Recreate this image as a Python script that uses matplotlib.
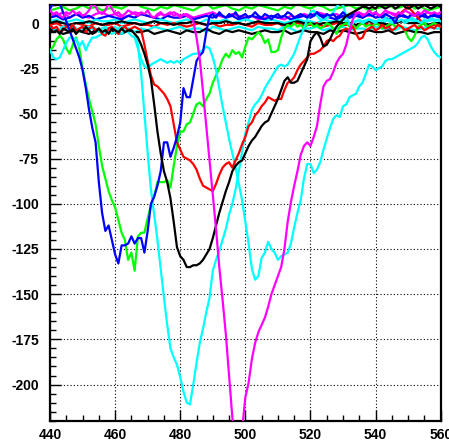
import numpy as np
import matplotlib
matplotlib.use("Agg")
import matplotlib.pyplot as plt
from matplotlib.ticker import MultipleLocator

plt.rcParams['font.family'] = ['Liberation Sans', 'DejaVu Sans']
plt.rcParams['axes.unicode_minus'] = False

# ---- data: samples 440..560 (step 1) for pulse traces ----
x_full = np.arange(440, 561)

blue_pulse = [
    8, 11, 12, 11, 6, 1, -4, -9, -14, -19,
    -26, -36, -48, -58, -66, -88, -105, -115, -112, -120,
    -128, -133, -123, -123, -122, -118, -122, -119, -119, -127,
    -115, -100, -96, -90, -82, -66, -66, -74, -69, -63,
    -55, -36, -41, -41, -31, -21, -18, -16, -5, 4,
    5, 3, 6, 4, 3, 5, 4, 6, 3, 4,
    5, 3, 4, 6, 4, 3, 5, 4, 2, 4,
    5, 3, 4, 6, 5, 3, 4, 5, 4, 3,
    5, 4, 6, 4, 3, 5, 4, 5, 3, 4,
    6, 4, 3, 5, 4, 5, 3, 4, 5, 4,
    6, 4, 3, 5, 4, 3, 0, 4, 5, 4,
    3, 5, 4, 6, 4, 5, 3, 4, 5, 4,
    4]

green_pulse = [
    -15, -13, -9, -7, -9, -14, -17, -12, -8, -14,
    -25, -34, -42, -49, -56, -68, -79, -86, -93, -98,
    -102, -109, -116, -120, -131, -127, -137, -118, -116, -116,
    -108, -101, -96, -88, -88, -88, -87, -91, -79, -68,
    -60, -60, -56, -55, -50, -45, -44, -46, -42, -39,
    -33, -29, -25, -20, -17, -19, -15, -17, -16, -19,
    -13, -8, -9, -7, -5, -7, -11, -9, -16, -16,
    -15, -8, -3, -1, -2, 0, -2, -1, -3, -1,
    0, -2, -1, -3, -2, 0, -1, -3, -6, -2,
    -1, 0, -2, -1, -3, -1, 0, -2, -1, -2,
    0, -1, -3, -2, -1, 0, -2, -1, -2, -4,
    -8, -10, -7, -2, -1, 0, -2, -1, 0, -1,
    -2]

red_pulse = [
    -1, -3, -2, -5, -4, -2, -3, -1, -4, -3,
    -2, -5, -3, -2, -4, -3, -6, -7, -3, -2,
    -4, -6, -3, -2, -4, -3, -2, -3, -4, -12,
    -21, -29, -34, -35, -37, -39, -42, -46, -56, -66,
    -70, -74, -75, -76, -78, -81, -86, -90, -91, -92,
    -93, -89, -84, -80, -78, -77, -80, -76, -72, -67,
    -63, -57, -55, -51, -49, -46, -44, -41, -42, -43,
    -42, -42, -37, -33, -32, -30, -26, -23, -21, -19,
    -17, -17, -16, -15, -13, -10, -9, -10, -8, -7,
    -4, -3, -4, -2, -6, -9, -8, -4, -3, -2,
    -4, -3, -1, -3, -2, -4, -3, -1, -2, -4,
    -3, -2, -1, -3, -2, -4, -3, -2, -3, -1,
    -2]

black_pulse = [
    -3, -5, -4, -6, -3, -4, -5, -3, -6, -4,
    -5, -2, -4, -6, -5, -3, -5, -4, -6, -3,
    -4, -5, -3, -5, -4, -4, -6, -8, -12, -17,
    -23, -31, -45, -60, -72, -82, -88, -97, -110, -124,
    -129, -131, -135, -135, -134, -134, -133, -131, -128, -125,
    -119, -112, -105, -99, -93, -88, -82, -79, -77, -76,
    -72, -68, -65, -63, -60, -57, -55, -54, -50, -46,
    -42, -37, -32, -30, -33, -33, -32, -28, -24, -20,
    -10, -7, -5, -8, -13, -12, -9, -5, -2, 0,
    2, 4, 5, 6, 7, 8, 9, 9, 8, 9,
    8, 10, 9, 8, 9, 10, 8, 9, 11, 9,
    8, 9, 10, 8, 9, 10, 9, 8, 9, 10,
    9]

cyan_pulse_a = [
    -2, -4, -3, -5, -2, -3, -4, -1, -3, -5,
    -2, -3, -4, -2, -3, -5, -3, -2, -4, -3,
    -2, -4, -3, -5, -3, -4, -5, -12, -28, -50,
    -72, -92, -106, -120, -136, -152, -167, -180, -185, -189,
    -196, -204, -210, -211, -200, -188, -177, -169, -160, -152,
    -137, -131, -126, -120, -114, -106, -100, -92, -82, -71,
    -61, -55, -48, -45, -43, -40, -36, -33, -30, -27,
    -24, -23, -24, -23, -20, -17, -12, -7, -3, 2,
    6, 7, 4, 2, 2, 3, 4, 6, 9, 11,
    10, 4, -1, 0, 1, 2, 0, 1, 2, 1,
    0, 2, 1, 3, 1, 0, 2, 1, 2, 0,
    1, 3, 2, 1, 0, 2, 1, 3, 1, 2,
    1]

cyan_pulse_b = [
    -15, -19, -20, -19, -15, -11, -8, -8, -9, -13,
    -10, -15, -11, -8, -8, -7, -6, -5, -5, -6,
    -5, -5, -6, -4, -5, -7, -8, -14, -20, -24,
    -25, -23, -22, -21, -20, -21, -22, -21, -22, -21,
    -22, -20, -19, -18, -17, -17, -16, -15, -13, -14,
    -19, -26, -36, -46, -55, -64, -72, -80, -89, -98,
    -110, -122, -136, -142, -140, -130, -127, -121, -125, -127,
    -131, -129, -128, -127, -122, -113, -105, -98, -86, -78,
    -78, -83, -81, -77, -70, -64, -58, -53, -51, -52,
    -46, -45, -41, -40, -39, -35, -33, -28, -23, -24,
    -26, -25, -24, -21, -20, -20, -19, -18, -17, -16,
    -15, -14, -13, -11, -8, -7, -9, -13, -16, -18,
    -19]

magenta_pulse = [
    7, 5, 6, 4, 3, 6, 5, 7, 5, 6,
    4, 5, 7, 11, 9, 6, 5, 7, 11, 8,
    5, 6, 4, 5, 7, 6, 5, 4, 6, 5,
    7, 4, 3, 5, 6, 4, 5, 6, 4, 5,
    3, 5, 4, 3, 1, -8, -20, -38, -57, -76,
    -95, -114, -135, -153, -172, -195, -218, -236, -240, -225,
    -207, -199, -186, -177, -171, -167, -163, -157, -150, -145,
    -140, -135, -125, -110, -99, -90, -82, -73, -68, -66,
    -68, -63, -57, -45, -35, -32, -31, -27, -22, -19,
    -17, -12, -4, 2, 5, 6, 4, 5, 7, 5,
    6, 4, 5, 7, 6, 5, 4, 6, 5, 7,
    6, 5, 4, 6, 5, 7, 6, 5, 6, 5,
    6]

# ---- baseline traces: samples 440..560 (step 2) ----
x_half = np.arange(440, 561, 2)

black_base_0 = [0, 1, 0, -1, 0, 0, 1, 0, -1, 0,
                0, 1, 0, 0, -1, 0, 1, 0, 0, -1,
                0, 0, 1, 0, -1, 0, 0, 1, 0, 0,
                -1, 0, 1, 0, 0, 0, -1, 0, 1, 0,
                0, -1, 0, 0, 1, 0, 0, -1, 0, 1,
                0, 0, -1, 0, 1, 0, 0, 0, -1, 0,
                0]
black_base_5 = [-5, -4, -6, -5, -4, -5, -6, -4, -5, -3,
                -5, -6, -4, -5, -5, -4, -6, -5, -4, -5,
                -6, -4, -5, -5, -3, -5, -6, -4, -5, -4,
                -5, -6, -5, -4, -5, -5, -4, -6, -5, -4,
                -5, -5, -6, -4, -5, -4, -5, -6, -5, -4,
                -5, -5, -4, -6, -5, -4, -5, -5, -6, -5,
                -5]
green_base = [7, 8, 9, 7, 8, 10, 8, 9, 7, 8,
              9, 8, 10, 12, 9, 8, 7, 9, 8, 10,
              9, 8, 7, 9, 11, 8, 9, 10, 8, 7,
              9, 8, 10, 9, 8, 7, 9, 8, 11, 9,
              8, 10, 9, 7, 8, 9, 10, 8, 9, 7,
              8, 9, 10, 8, 9, 11, 8, 9, 7, 8,
              9]
magenta_base = [5, 4, 6, 3, 5, 4, 3, 5, 6, 4,
                5, 3, 4, 6, 5, 4, 3, 5, 4, 6,
                4, 5, 3, 4, 5, 6, 4, 3, 5, 4,
                3, 4, 2, 3, 4, 3, 2, 4, 3, 5,
                4, 6, 5, 4, 5, 3, 4, 6, 5, 4,
                5, 4, 6, 5, 4, 3, 5, 4, 6, 5,
                4]
blue_base = [3, 4, 2, 3, 5, 3, 4, 2, 3, 4,
             3, 2, 4, 3, 5, 4, 3, 2, 4, 3,
             3, 4, 2, 3, 4, 3, 5, 3, 4, 2,
             3, 4, 3, 2, 4, 3, 4, 2, 3, 4,
             3, 5, 4, 3, 2, 4, 3, 4, 3, 5,
             3, 4, 2, 3, 4, 3, 1, 4, 3, 4,
             3]
cyan_base_hi = [1, 2, 0, 1, 2, 1, 0, 2, 1, 1,
                2, 0, 1, 2, 1, 0, 1, 2, 1, 0,
                1, 2, 1, 0, 2, 1, 1, 2, 0, 1,
                2, 1, 0, 1, 2, 1, 0, 1, 2, 1,
                1, 0, 2, 1, 1, 2, 0, 1, 1, 2,
                1, 0, 2, 1, 1, 2, 1, 0, 1, 2,
                1]
cyan_base_lo = [-3, -4, -2, -3, -5, -3, -2, -4, -3, -3,
                -4, -2, -3, -5, -3, -4, -2, -3, -4, -3,
                -2, -4, -3, -3, -5, -2, -3, -4, -3, -2,
                -3, -4, -2, -3, -3, -4, -2, -3, -5, -3,
                -3, -2, -4, -3, -3, -2, -4, -3, -3, -4,
                -2, -3, -3, -4, -2, -3, -4, -3, -2, -3,
                -3]
red_base = [-1, 0, -2, -1, 0, -1, -2, 0, -1, -1,
            0, -2, -1, 0, -1, -1, -2, 0, -1, 0,
            -1, -2, -1, 0, -1, 0, -2, -1, -1, 0,
            -1, -2, 0, -1, -1, 0, -2, -1, 0, -1,
            -1, 0, -2, -1, 0, -1, -1, -2, 0, -1,
            0, -1, -2, 2, 6, 9, 5, 1, -2, -1,
            -1]

x_ticks = [440, 460, 480, 500, 520, 540, 560]
y_ticks = [0, -25, -50, -75, -100, -125, -150, -175, -200]

# ---- figure ----
W, H = 449, 441
fig = plt.figure(figsize=(W / 100, H / 100), dpi=100)
left, right, top, bottom = 50, 440.7, 5, 420.7
ax = fig.add_axes([left / W, 1 - bottom / H, (right - left) / W, (bottom - top) / H])

lw = 1.6
base_traces = [
    (green_base, '#00ff00'),
    (magenta_base, '#ff00ff'),
    (blue_base, '#0000ff'),
    (cyan_base_hi, '#00ffff'),
    (red_base, '#ff0000'),
    (cyan_base_lo, '#00ffff'),
    (black_base_5, '#000000'),
    (black_base_0, '#000000'),
]
for vals, col in base_traces:
    ax.plot(x_half, vals, color=col, lw=lw, zorder=2)

pulse_traces = [
    (green_pulse, '#00ff00'),
    (cyan_pulse_b, '#00ffff'),
    (cyan_pulse_a, '#00ffff'),
    (red_pulse, '#ff0000'),
    (blue_pulse, '#0000ff'),
    (black_pulse, '#000000'),
    (magenta_pulse, '#ff00ff'),
]
for vals, col in pulse_traces:
    ax.plot(x_full, vals, color=col, lw=lw, zorder=3)

ax.set_xlim(440, 560)
ax.set_ylim(-220, 10)
ax.set_xticks(x_ticks)
ax.set_yticks(y_ticks)
ax.xaxis.set_minor_locator(MultipleLocator(5))
ax.yaxis.set_minor_locator(MultipleLocator(5))
ax.tick_params(which='major', direction='in', length=8, width=1.0,
               labelsize=10, top=False, right=False)
ax.tick_params(which='minor', direction='in', length=4, width=1.0,
               top=False, right=False)
ax.tick_params(axis='x', which='major', pad=5)
ax.tick_params(axis='y', which='major', pad=8)
for lab in ax.get_xticklabels() + ax.get_yticklabels():
    lab.set_fontweight('bold')

ax.grid(True, which='major', color='k', linestyle=(0, (1, 2)), lw=0.8)
ax.set_axisbelow(True)
for sp in ax.spines.values():
    sp.set_linewidth(1.6)

fig.savefig('out.png', dpi=100)
